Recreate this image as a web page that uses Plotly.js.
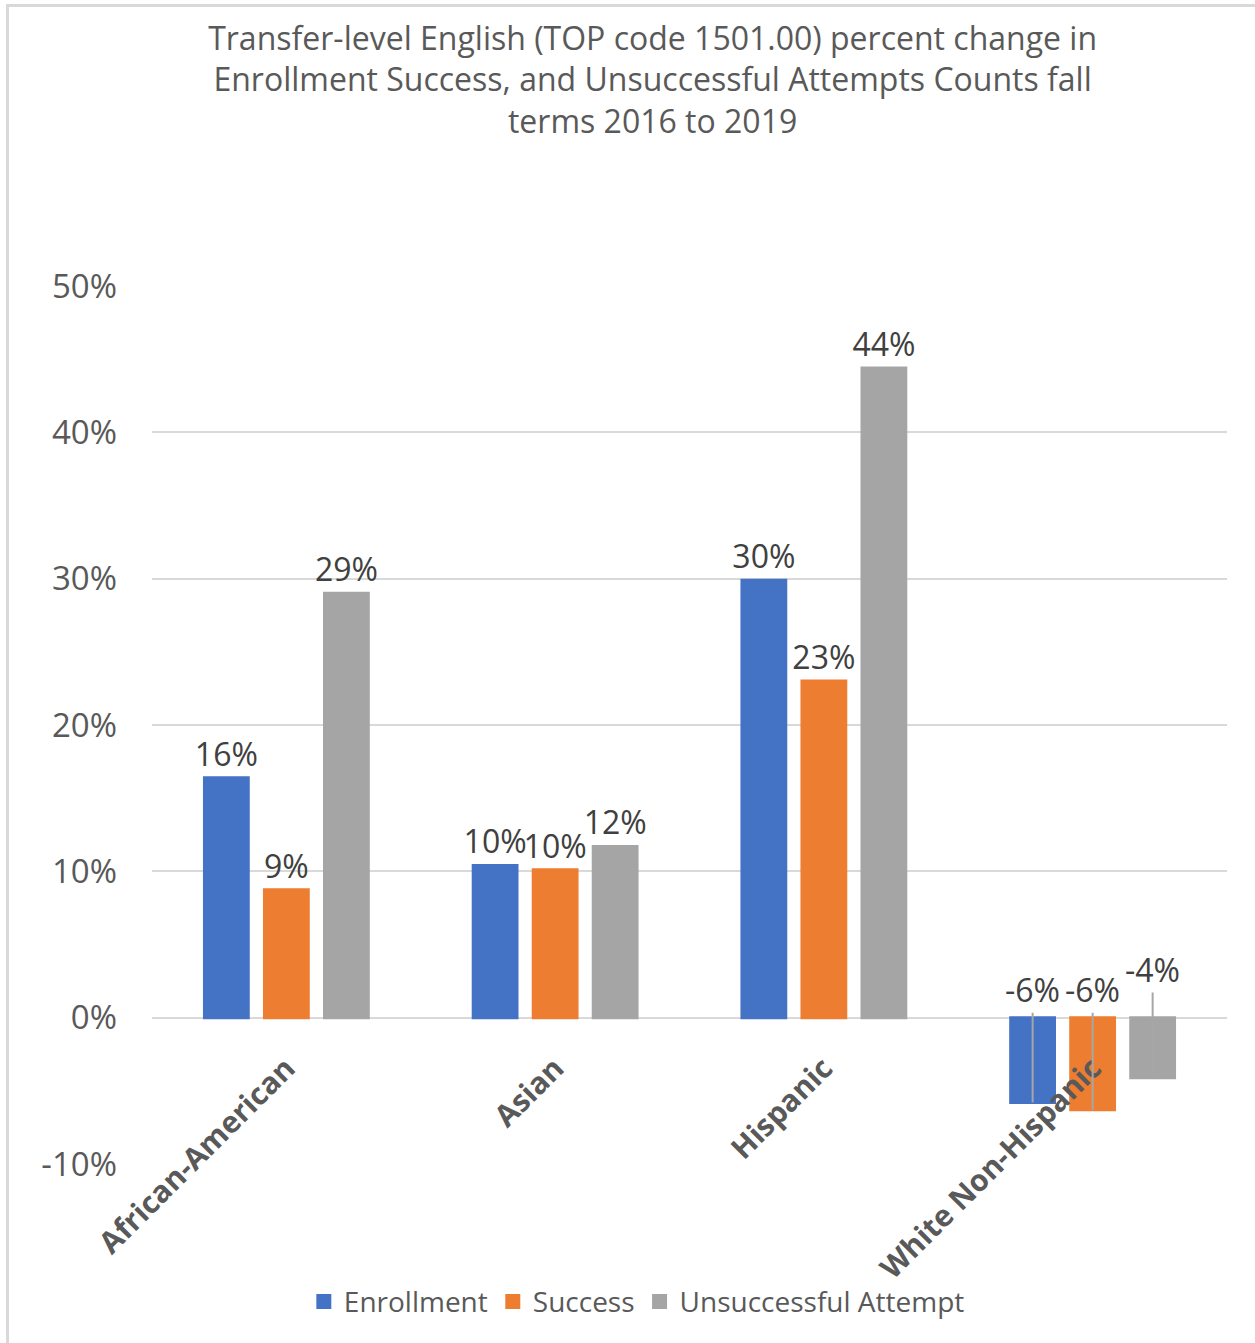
<!DOCTYPE html>
<html>
<head>
<meta charset="utf-8">
<script src="https://cdn.plot.ly/plotly-3.0.1.min.js"></script>
<style>
  html, body { margin: 0; padding: 0; background: #ffffff; }
  #chart { width: 1255px; height: 1343px; }
  #frame { position: absolute; left: 6px; top: 4px; width: 1260px; height: 1345px;
           border-top: 3px solid #d9d9d9; border-left: 3px solid #d9d9d9;
           pointer-events: none; box-sizing: border-box; }
</style>
</head>
<body>
<div id="chart"></div>
<div id="frame"></div>
<script>
const categories = ["African-American", "Asian", "Hispanic", "White Non-Hispanic"];
const seriesNames = ["Enrollment", "Success", "Unsuccessful Attempt"];
const enrollment = [0.164, 0.104, 0.299, -0.058];
const success = [0.0875, 0.101, 0.230, -0.063];
const unsuccessful = [0.290, 0.117, 0.444, -0.041];
const yTickVals = [-0.1, 0, 0.1, 0.2, 0.3, 0.4, 0.5];
const yTickText = ["-10%", "0%", "10%", "20%", "30%", "40%", "50%"];

const colors = ["#4472c4", "#ed7d31", "#a5a5a5"];
const textColor = "#595959";
const font = "Open Sans, Liberation Sans, sans-serif";
const allSeries = [enrollment, success, unsuccessful];

function pct(v) { return Math.round(v * 100) + "%"; }

const traces = allSeries.map((vals, i) => ({
  type: "bar",
  name: seriesNames[i],
  x: categories,
  y: vals,
  marker: { color: colors[i], line: { color: colors[i], width: 3 } },
  text: vals.map(v => v >= 0 ? pct(v) : ""),
  textposition: "outside",
  constraintext: "none",
  cliponaxis: false,
  textfont: { family: font, size: 32, color: "#404040" },
  hoverinfo: "x+y"
}));

// Negative values: labels placed above the zero line with leader lines (as in the original)
const groupShift = [-60, 0, 60];
const annotations = [];
allSeries.forEach((vals, i) => {
  vals.forEach((v, j) => {
    if (v < 0) {
      annotations.push({
        x: categories[j], y: v, xref: "x", yref: "y",
        xshift: groupShift[i],
        text: pct(v),
        showarrow: true, arrowhead: 0, arrowwidth: 2, arrowcolor: "#a6a6a6",
        axref: "pixel", ax: 0, ayref: "y", ay: (i === 2 ? 0.033 : 0.019),
        font: { family: font, size: 32, color: "#404040" }
      });
    }
  });
});

const layout = {
  width: 1255, height: 1343,
  paper_bgcolor: "rgba(0,0,0,0)",
  plot_bgcolor: "#ffffff",
  margin: { l: 152, r: 28, t: 286, b: 179 },
  title: {
    text: "Transfer-level English (TOP code 1501.00) percent change in<br>Enrollment Success, and Unsuccessful Attempts Counts fall<br>terms 2016 to 2019",
    font: { family: font, size: 32, color: textColor },
    x: 0.52, xanchor: "center",
    y: 0.963, yanchor: "top", yref: "container"
  },
  barmode: "group",
  bargap: 0.33,
  bargroupgap: 0.27,
  xaxis: {
    type: "category",
    anchor: "free", position: 1 / 6,
    showgrid: false, showline: false, ticks: "",
    tickangle: -45,
    ticklabelstandoff: 26,
    tickfont: { family: font, size: 30, color: textColor, weight: "bold" }
  },
  yaxis: {
    range: [-0.1, 0.5],
    tickvals: yTickVals,
    ticktext: yTickText,
    showgrid: true, gridcolor: "#d9d9d9", gridwidth: 2,
    zeroline: true, zerolinecolor: "#d9d9d9", zerolinewidth: 2,
    showline: false, ticks: "",
    ticklabelstandoff: 34,
    tickfont: { family: font, size: 33, color: textColor }
  },
  legend: {
    orientation: "h",
    x: 0.451, xanchor: "center",
    y: -0.157, yanchor: "middle",
    font: { family: font, size: 28, color: textColor }
  },
  annotations: annotations,
  showlegend: true
};

Plotly.newPlot("chart", traces, layout, { displayModeBar: false, staticPlot: true });
</script>
</body>
</html>
